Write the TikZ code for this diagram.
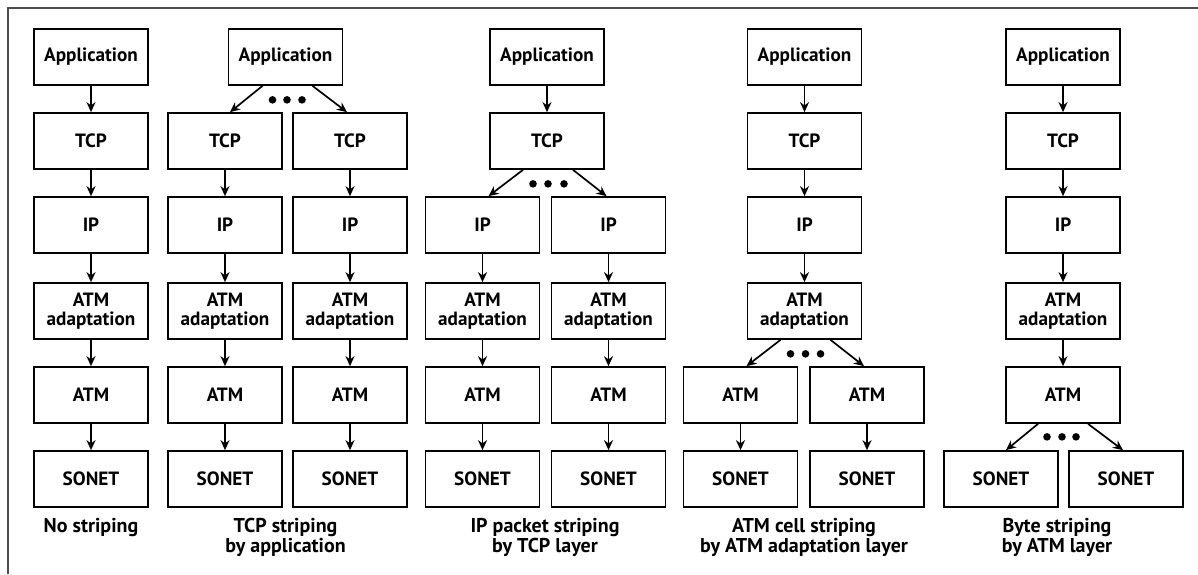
\documentclass[tikz,border=0pt]{standalone}
\usepackage{fontspec}
\setmainfont{PT Sans}
\usetikzlibrary{arrows.meta,calc}
\tikzset{
  layer/.style={draw, line width=0.85pt, minimum width=57pt, minimum height=28pt,
    inner sep=0pt, align=center, font=\bfseries\fontsize{9.6}{9.5}\selectfont},
  caption/.style={align=center, inner sep=0pt, anchor=north,
    font=\bfseries\fontsize{10}{10}\selectfont},
  flow/.style={line width=0.85pt, -{Stealth[length=5pt,width=4.5pt]}},
  dot/.style={fill=black, circle, inner sep=0pt, minimum size=3.8pt},
  frame/.style={line width=0.6pt, black!70}
}
\begin{document}
\begin{tikzpicture}[x=0.5pt,y=-0.5pt]
\useasboundingbox (0,0) rectangle (1198,574);
\draw[frame] (8,574) -- (8,8) -- (1198,8);

% row centres
\def\ya{57}\def\yb{141}\def\yc{225}\def\yd{311}\def\ye{395}\def\yf{479}

% ---- no striping
\node[layer] (a1)  at (91,\ya) {Application};
\node[layer] (t1)  at (91,\yb) {TCP};
\node[layer] (i1)  at (91,\yc) {IP};
\node[layer] (d1)  at (91,\yd) {ATM\\adaptation};
\node[layer] (m1)  at (91,\ye) {ATM};
\node[layer] (s1)  at (91,\yf) {SONET};
\draw[flow] (a1) -- (t1);
\draw[flow] (t1) -- (i1);
\draw[flow] (i1) -- (d1);
\draw[flow] (d1) -- (m1);
\draw[flow] (m1) -- (s1);
\node[caption] (l1) at (91,518) {No striping};

% ---- TCP striping by application
\node[layer] (a2) at (285.5,\ya) {Application};
\foreach \s/\x in {L/225,R/350}{
  \node[layer] (t2\s) at (\x,\yb) {TCP};
  \node[layer] (i2\s) at (\x,\yc) {IP};
  \node[layer] (d2\s) at (\x,\yd) {ATM\\adaptation};
  \node[layer] (m2\s) at (\x,\ye) {ATM};
  \node[layer] (s2\s) at (\x,\yf) {SONET};
  \draw[flow] (t2\s) -- (i2\s);
  \draw[flow] (i2\s) -- (d2\s);
  \draw[flow] (d2\s) -- (m2\s);
  \draw[flow] (m2\s) -- (s2\s);
}
\draw[flow] ($(a2.south)+(-23,0)$) -- ($(t2L.north)+(5,0)$);
\draw[flow] ($(a2.south)+(27,0)$) -- ($(t2R.north)+(-3,0)$);
\foreach \dx in {-13,1.5,16.5} \node[dot] at ($(a2.south)+(\dx,14)$) {};
\node[caption] (l2) at (285.5,518) {TCP striping\\by application};

% ---- IP packet striping by TCP layer
\node[layer] (a3) at (547,\ya) {Application};
\node[layer] (t3) at (547,\yb) {TCP};
\draw[flow] (a3) -- (t3);
\foreach \s/\x in {L/482.5,R/608.5}{
  \node[layer] (i3\s) at (\x,\yc) {IP};
  \node[layer] (d3\s) at (\x,\yd) {ATM\\adaptation};
  \node[layer] (m3\s) at (\x,\ye) {ATM};
  \node[layer] (s3\s) at (\x,\yf) {SONET};
  \draw[flow] (i3\s) -- (d3\s);
  \draw[flow] (d3\s) -- (m3\s);
  \draw[flow] (m3\s) -- (s3\s);
}
\draw[flow] ($(t3.south)+(-24,0)$) -- ($(i3L.north)+(6,0)$);
\draw[flow] ($(t3.south)+(26,0)$) -- ($(i3R.north)+(-2,0)$);
\foreach \dx in {-14,1,17} \node[dot] at ($(t3.south)+(\dx,14)$) {};
\node[caption] (l3) at (545,518) {IP packet striping\\by TCP layer};

% ---- ATM cell striping by ATM adaptation layer
\node[layer] (a4) at (804.5,\ya) {Application};
\node[layer] (t4) at (804.5,\yb) {TCP};
\node[layer] (i4) at (804.5,\yc) {IP};
\node[layer] (d4) at (804.5,\yd) {ATM\\adaptation};
\draw[flow] (a4) -- (t4);
\draw[flow] (t4) -- (i4);
\draw[flow] (i4) -- (d4);
\foreach \s/\x in {L/740.5,R/867}{
  \node[layer] (m4\s) at (\x,\ye) {ATM};
  \node[layer] (s4\s) at (\x,\yf) {SONET};
  \draw[flow] (m4\s) -- (s4\s);
}
\draw[flow] ($(d4.south)+(-24,0)$) -- ($(m4L.north)+(6,0)$);
\draw[flow] ($(d4.south)+(26,0)$) -- ($(m4R.north)+(-3,0)$);
\foreach \dx in {-14,1,16} \node[dot] at ($(d4.south)+(\dx,14)$) {};
\node[caption] (l4) at (804,518) {ATM cell striping\\by ATM adaptation layer};

% ---- Byte striping by ATM layer
\node[layer] (a5) at (1063,\ya) {Application};
\node[layer] (t5) at (1063,\yb) {TCP};
\node[layer] (i5) at (1063,\yc) {IP};
\node[layer] (d5) at (1063,\yd) {ATM\\adaptation};
\node[layer] (m5) at (1063,\ye) {ATM};
\draw[flow] (a5) -- (t5);
\draw[flow] (t5) -- (i5);
\draw[flow] (i5) -- (d5);
\draw[flow] (d5) -- (m5);
\node[layer] (s5L) at (1001,\yf) {SONET};
\node[layer] (s5R) at (1126,\yf) {SONET};
\draw[flow] ($(m5.south)+(-25,0)$) -- ($(s5L.north)+(5,0)$);
\draw[flow] ($(m5.south)+(25,0)$) -- ($(s5R.north)+(-3,0)$);
\foreach \dx in {-16,-1,13} \node[dot] at ($(m5.south)+(\dx,13)$) {};
\node[caption] (l5) at (1057,518) {Byte striping\\by ATM layer};
\end{tikzpicture}
\end{document}
